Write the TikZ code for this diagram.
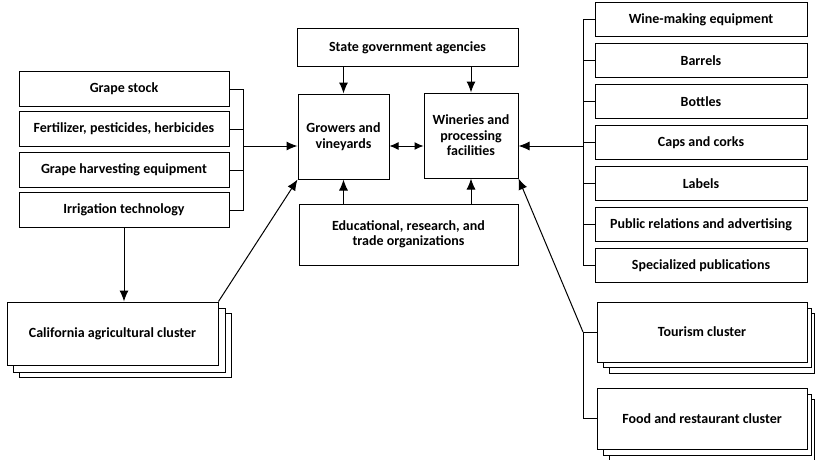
\documentclass[tikz,border=0pt]{standalone}
\usepackage{fontspec}
\setmainfont{Carlito}
\usetikzlibrary{arrows.meta}
\begin{document}
\begin{tikzpicture}[x=1pt,y=-1pt,
  box/.style={draw, line width=1pt, fill=white, inner sep=0pt, align=center,
    font=\fontsize{14}{15.5}\selectfont\bfseries},
  shadowbox/.style={draw, line width=1pt, fill=white},
  conn/.style={line width=1pt},
  arr/.style={line width=1pt, -{Latex[length=11pt,width=9pt]}},
  darr/.style={line width=1pt, {Latex[length=9pt,width=8pt]}-{Latex[length=9pt,width=8pt]}}]
\useasboundingbox (0,0) rectangle (816,460);
% coordinates
\coordinate (mid) at (0,146);
\coordinate (lb) at (243,0);
\coordinate (rb) at (583,0);
% left stack
\node[box, minimum width=210pt, minimum height=35pt] (gs) at (124,89) {Grape stock};
\node[box, minimum width=210pt, minimum height=35pt] (fe) at (124,129) {Fertilizer, pesticides, herbicides};
\node[box, minimum width=210pt, minimum height=35pt] (gh) at (124,170) {Grape harvesting equipment};
\node[box, minimum width=210pt, minimum height=35pt] (ir) at (124,210) {Irrigation technology};
% california with shadows
\draw[shadowbox] (19,313) rectangle (231,377);
\draw[shadowbox] (13,308) rectangle (225,372);
\node[box, minimum width=211pt, minimum height=63pt] (ca) at (112.5,333.5) {California agricultural cluster};
% center
\node[box, minimum width=221pt, minimum height=38pt] (sg) at (407.5,48) {State government agencies};
\node[box, minimum width=91pt, minimum height=85pt] (gw) at (343.5,136.5) {Growers and\\vineyards};
\node[box, minimum width=94pt, minimum height=85pt] (wn) at (471,135.5) {Wineries and\\processing\\facilities};
\node[box, minimum width=219pt, minimum height=61pt] (ed) at (408.5,234.5) {Educational, research, and\\trade organizations};
% right stack
\node[box, minimum width=212pt, minimum height=34pt] (r1) at (701,19.5) {Wine-making equipment};
\node[box, minimum width=212pt, minimum height=34pt] (r2) at (701,60.5) {Barrels};
\node[box, minimum width=212pt, minimum height=34pt] (r3) at (701,101.5) {Bottles};
\node[box, minimum width=212pt, minimum height=34pt] (r4) at (701,142.5) {Caps and corks};
\node[box, minimum width=212pt, minimum height=34pt] (r5) at (701,183.5) {Labels};
\node[box, minimum width=212pt, minimum height=34pt] (r6) at (701,224.5) {Public relations and advertising};
\node[box, minimum width=212pt, minimum height=34pt] (r7) at (701,265.5) {Specialized publications};
% tourism
\draw[shadowbox] (609,313) rectangle (814,373);
\draw[shadowbox] (603,308) rectangle (811,367);
\node[box, minimum width=210pt, minimum height=60pt] (tc) at (702,332) {Tourism cluster};
% food
\draw[shadowbox] (609,399) rectangle (814,462);
\draw[shadowbox] (603,394) rectangle (811,455);
\node[box, minimum width=210pt, minimum height=61pt] (fc) at (702,418.5) {Food and restaurant cluster};
% left bracket
\draw[conn] (gs.east) -- (gs.east -| lb) -- (ir.east -| lb) -- (ir.east);
\draw[conn] (fe.east) -- (fe.east -| lb);
\draw[conn] (gh.east) -- (gh.east -| lb);
\draw[arr] (lb |- mid) -- (gw.west |- mid);
% irrigation to california
\draw[arr] (ir.south) -- (ir.south |- ca.north);
\draw[arr] (ca.north east) -- (gw.south west);
% center arrows
\draw[arr] (sg.south -| gw.north) -- (gw.north);
\draw[arr] (sg.south -| wn.north) -- (wn.north);
\draw[arr] (ed.north -| gw.south) -- (gw.south);
\draw[arr] (ed.north -| wn.south) -- (wn.south);
\draw[darr] (gw.east |- mid) -- (wn.west |- mid);
% right bracket
\draw[conn] (r1.west) -- (r1.west -| rb) -- (r7.west -| rb) -- (r7.west);
\foreach \n in {r2,r3,r4,r5,r6} \draw[conn] (\n.west) -- (\n.west -| rb);
\draw[arr] (rb |- mid) -- (wn.east |- mid);
% tourism/food bracket
\draw[conn] (tc.west) -- (tc.west -| rb) -- (fc.west -| rb) -- (fc.west);
\draw[arr] (tc.west -| rb) -- (wn.south east);
\end{tikzpicture}
\end{document}
